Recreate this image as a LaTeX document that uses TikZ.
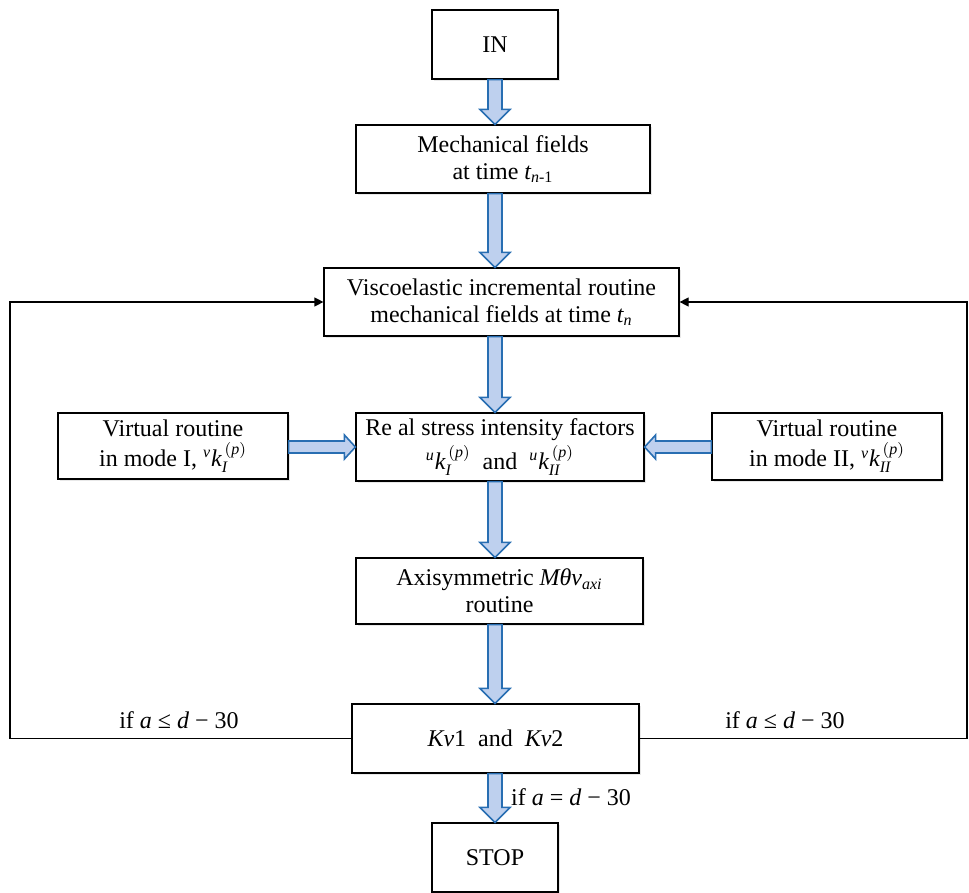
\documentclass[tikz,border=0pt]{standalone}
\usepackage{amsmath}
\usepackage{fontspec}
\setmainfont{Liberation Serif}
\usetikzlibrary{calc,shadows,arrows.meta}
\definecolor{arrowfill}{RGB}{190,208,238}
\definecolor{arrowline}{RGB}{40,110,178}
\newcommand{\vk}[2]{${}^{\textit{#1}}\textit{k}_{\textit{#2}}^{\,(\textit{p})}$}
\begin{document}
\begin{tikzpicture}
  [x=.5pt,y=-.5pt,every node/.style={font=\fontsize{12}{13.5}\selectfont}]
  \tikzstyle{box} = [draw,semithick,fill=white,align=center,inner sep=0pt,
    drop shadow={opacity=.18,shadow xshift=.8pt,shadow yshift=-.8pt}]
  \tikzstyle{barrow} = [draw=arrowline,fill=arrowfill,line width=.8pt,line join=miter]
  \tikzstyle{loopline} = [semithick,-{Triangle[length=4.5pt,width=4.5pt]}]
  \tikzstyle{cond} = [inner sep=0pt]
  \useasboundingbox (0,0) rectangle (969,893);
  \coordinate (spine) at (495,0);
  \coordinate (lft) at (10,0);
  \coordinate (rgt) at (967,0);
  \node[box,minimum width=63pt,minimum height=34.5pt] (inbox) at (495,44.5) {IN};
  \node[box,minimum width=147pt,minimum height=34pt] (mech) at (503,159)
    {Mechanical fields\\at time $\textit{t}_{\textit{n}\textrm{-1}}$};
  \node[box,minimum width=177.5pt,minimum height=34pt] (visco) at (501.5,302)
    {Viscoelastic incremental routine\\mechanical fields at time $\textit{t}_{\textit{n}}$};
  \node[box,minimum width=144pt,minimum height=34pt] (real) at (500,447)
    {Re al stress intensity factors\\[1.5pt]\vk{u}{I} \ and \ \vk{u}{II}};
  \node[box,minimum width=115pt,minimum height=33pt] (virt1) at (173,446)
    {Virtual routine\\[1.5pt]in mode I, \vk{v}{I}};
  \node[box,minimum width=115pt,minimum height=33.5pt] (virt2) at (827,446.5)
    {Virtual routine\\[1.5pt]in mode II, \vk{v}{II}};
  \node[box,minimum width=143.5pt,minimum height=33pt] (axis) at (499.5,591)
    {Axisymmetric $\textit{Mθv}_{\textit{axi}}$\\routine};
  \node[box,minimum width=143.5pt,minimum height=34.5pt] (kv) at (495.5,738.5)
    {\textit{Kv}1 \ and \ \textit{Kv}2};
  \node[box,minimum width=63pt,minimum height=34.5pt] (stopbox) at (495,857.5) {STOP};
  \node[cond] (leftcond) at (179,720) {if \textit{a} ≤ \textit{d} − 30};
  \node[cond] (rightcond) at (785,720) {if \textit{a} ≤ \textit{d} − 30};
  \node[cond] (stopcond) at (571,797) {if \textit{a} = \textit{d} − 30};
% block arrows down the middle
\foreach \src/\dst in {inbox/mech,mech/visco,visco/real,real/axis,axis/kv,kv/stopbox}
   \draw[barrow] let \p1=(\src.south -| spine), \p2=(\dst.north -| spine) in
     (\x1-3.5pt,\y1) -- (\x1-3.5pt,\y2+7.5pt) -- (\x1-7.5pt,\y2+7.5pt) -- (\x1,\y2)
     -- (\x1+7.5pt,\y2+7.5pt) -- (\x1+3.5pt,\y2+7.5pt) -- (\x1+3.5pt,\y1) -- cycle;
% side arrows into the real SIF box
\foreach \src/\a/\dst/\b/\s in {virt1/east/real/west/1,virt2/west/real/east/-1}
   \draw[barrow] let \p1=(\src.\a), \p2=(\dst.\b), \n1={\x2-\s*5.5pt} in
     (\x1,\y2+3pt) -- (\n1,\y2+3pt) -- (\n1,\y2+6pt) -- (\x2,\y2)
     -- (\n1,\y2-6pt) -- (\n1,\y2-3pt) -- (\x1,\y2-3pt) -- cycle;
% loops back to the viscoelastic routine
  \draw[loopline] (kv.west) -- (kv.west -| lft) |- (visco.west);
  \draw[loopline] (kv.east) -- (kv.east -| rgt) |- (visco.east);
\end{tikzpicture}
\end{document}
